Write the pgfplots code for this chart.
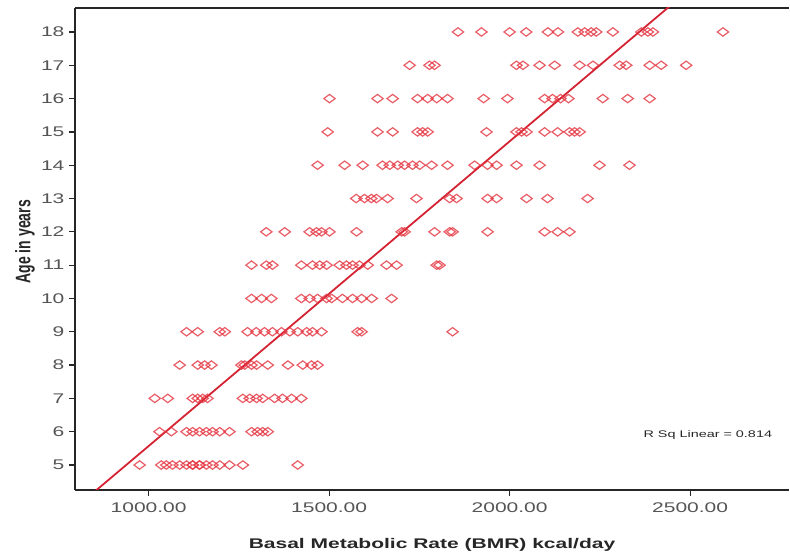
\documentclass[border=0pt]{standalone}
\usepackage{fontspec}
\setmainfont{Liberation Sans}
\usepackage{pgfplots}
\pgfplotsset{compat=1.18}
\definecolor{mk}{RGB}{228,52,64}
\definecolor{fit}{RGB}{212,36,52}
\definecolor{tl}{RGB}{85,85,85}
\begin{document}
\begin{tikzpicture}
\useasboundingbox (-37.5pt,-35pt) rectangle (357.5pt,245pt);
\begin{axis}[
  scale only axis, width=357pt, height=241pt,
  xmin=796, xmax=2774, ymin=4.25, ymax=18.72,
  axis x line=box, axis y line=left,
  axis line style={-, line width=1pt, black!85},
  xtick={1000,1500,2000,2500}, ytick={5,6,...,18},
  xtick pos=bottom, ytick pos=left,
  tick align=outside, major tick length=3pt,
  tick style={line width=0.6pt, black!85},
  /pgf/number format/assume math mode=true,
  xticklabel={\pgfmathprintnumber[fixed,fixed zerofill,precision=2,1000 sep={}]{\tick}},
  yticklabel={\pgfmathprintnumber[fixed,precision=0]{\tick}},
  every tick label/.append style={font=\fontsize{7}{8}\selectfont, text=tl, xscale=1.5},
  yticklabel style={xshift=2pt},
  xlabel={Basal Metabolic Rate (BMR) kcal/day},
  ylabel={Age in years},
  xlabel style={at={(axis description cs:0.5,-0.114)}, anchor=center, font=\fontsize{7}{8}\selectfont\bfseries, text=black!85, xscale=1.5},
  ylabel style={at={(axis description cs:-0.07,0.515)}, anchor=center, font=\fontsize{7}{8}\selectfont\bfseries, text=black!85, yscale=1.5},
]
\addplot[only marks, mark=diamond, mark size=2.1pt, mark options={xscale=1.8, draw=mk, draw opacity=0.8, fill=none, line width=0.6pt}] table {
x y
975 5
1035 5
1049 5
1066 5
1086 5
1105 5
1122 5
1122 5
1141 5
1141 5
1160 5
1177 5
1197 5
1224 5
1261 5
1413 5
1030 6
1063 6
1105 6
1122 6
1141 6
1160 6
1177 6
1197 6
1224 6
1285 6
1302 6
1316 6
1330 6
1017 7
1053 7
1122 7
1136 7
1150 7
1163 7
1261 7
1280 7
1299 7
1316 7
1349 7
1371 7
1396 7
1423 7
1086 8
1136 8
1155 8
1174 8
1257 8
1266 8
1285 8
1299 8
1330 8
1386 8
1427 8
1451 8
1468 8
1105 9
1136 9
1197 9
1211 9
1274 9
1298 9
1321 9
1343 9
1368 9
1391 9
1413 9
1438 9
1454 9
1479 9
1579 9
1590 9
1842 9
1285 10
1313 10
1340 10
1423 10
1446 10
1468 10
1493 10
1507 10
1537 10
1565 10
1590 10
1618 10
1673 10
1285 11
1326 11
1343 11
1423 11
1454 11
1474 11
1493 11
1529 11
1548 11
1565 11
1584 11
1607 11
1659 11
1687 11
1798 11
1806 11
1326 12
1377 12
1446 12
1465 12
1479 12
1501 12
1576 12
1701 12
1709 12
1792 12
1834 12
1842 12
1939 12
2097 12
2133 12
2166 12
1575 13
1598 13
1617 13
1631 13
1662 13
1742 13
1834 13
1853 13
1939 13
1964 13
2047 13
2105 13
2216 13
1468 14
1543 14
1593 14
1648 14
1668 14
1690 14
1709 14
1731 14
1751 14
1784 14
1828 14
1903 14
1939 14
1964 14
2019 14
2083 14
2249 14
2332 14
1496 15
1634 15
1676 15
1745 15
1759 15
1773 15
1936 15
2019 15
2033 15
2047 15
2097 15
2133 15
2166 15
2180 15
2194 15
1501 16
1634 16
1676 16
1745 16
1773 16
1798 16
1828 16
1928 16
1994 16
2097 16
2119 16
2141 16
2163 16
2258 16
2327 16
2388 16
1723 17
1778 17
1792 17
2019 17
2037 17
2083 17
2125 17
2194 17
2231 17
2305 17
2323 17
2388 17
2420 17
2489 17
1857 18
1922 18
2000 18
2046 18
2106 18
2134 18
2189 18
2208 18
2226 18
2240 18
2286 18
2365 18
2383 18
2397 18
2591 18
};
\addplot[fit, line width=0.9pt] coordinates {(800,3.74) (2500,19.29)};
\node[font=\fontsize{4.8}{6}\selectfont, text=black!85, xscale=1.5] at (axis cs:2549,5.9) {R Sq Linear = 0.814};
\end{axis}
\end{tikzpicture}
\end{document}
